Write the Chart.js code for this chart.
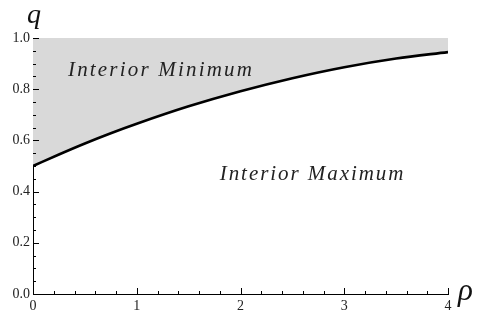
<!DOCTYPE html>
<html>
<head>
<meta charset="utf-8">
<script src="https://cdn.jsdelivr.net/npm/chart.js@4.4.1/dist/chart.umd.min.js"></script>
<style>
  html, body { margin: 0; padding: 0; background: #fff; }
  #wrap { width: 477px; height: 311px; }
</style>
</head>
<body>
<div id="wrap"><canvas id="c" width="477" height="311"></canvas></div>
<script>
// boundary curve q(rho)
const rhoVals = [0, 0.25, 0.5, 0.75, 1, 1.5, 2, 2.5, 3, 3.5, 4];
const qVals   = [0.5, 0.545, 0.588, 0.628, 0.665, 0.733, 0.792, 0.843, 0.886, 0.92, 0.945];

const xTicks = [0, 1, 2, 3, 4];
const yTicks = [0.0, 0.2, 0.4, 0.6, 0.8, 1.0];

// region labels: [text, left rho, right rho, baseline q]
const regionLabels = [
  ['Interior Minimum', 0.337, 2.11, 0.852],
  ['Interior Maximum', 1.80, 3.57, 0.445]
];

const serif = '"Liberation Serif", "DejaVu Serif", serif';
const isMajor = (v, arr)=> arr.some(t=> Math.abs(t - v) < 1e-6);

const decor = {
  id: 'decor',
  afterDatasetsDraw(chart){
    const ctx = chart.ctx, xs = chart.scales.x, ys = chart.scales.y;
    const ca = chart.chartArea;
    ctx.save();
    // inward ticks
    ctx.strokeStyle = '#000';
    ctx.lineWidth = 1;
    xs.ticks.forEach(t=>{
      const px = Math.round(xs.getPixelForValue(t.value)) + 0.5;
      const len = isMajor(t.value, xTicks) ? 6 : 3;
      ctx.beginPath(); ctx.moveTo(px, ca.bottom); ctx.lineTo(px, ca.bottom - len); ctx.stroke();
    });
    ys.ticks.forEach(t=>{
      const py = Math.round(ys.getPixelForValue(t.value)) + 0.5;
      const len = isMajor(t.value, yTicks) ? 6 : 3;
      ctx.beginPath(); ctx.moveTo(ca.left, py); ctx.lineTo(ca.left + len, py); ctx.stroke();
    });

    // region labels
    ctx.fillStyle = '#222';
    ctx.textBaseline = 'alphabetic';
    ctx.textAlign = 'left';
    regionLabels.forEach(([txt, r0, r1, q])=>{
      ctx.font = 'italic 21px ' + serif;
      ctx.letterSpacing = '0px';
      const target = xs.getPixelForValue(r1) - xs.getPixelForValue(r0);
      const w = ctx.measureText(txt).width;
      ctx.letterSpacing = ((target - w) / (txt.length - 1)).toFixed(2) + 'px';
      ctx.fillText(txt, xs.getPixelForValue(r0), ys.getPixelForValue(q));
    });
    ctx.letterSpacing = '0px';

    // axis titles
    ctx.fillStyle = '#111';
    ctx.font = 'italic 28px ' + serif;
    ctx.textAlign = 'center';
    ctx.fillText('q', ca.left + 1, ca.top - 15);
    ctx.font = 'italic 31px ' + serif;
    ctx.textAlign = 'left';
    ctx.fillText('\u03C1', ca.right + 10, ca.bottom + 6);
    ctx.restore();
  }
};

new Chart(document.getElementById('c'), {
  type: 'line',
  data: {
    datasets: [{
      data: rhoVals.map((r, i)=> ({ x: r, y: qVals[i] })),
      borderColor: '#000',
      borderWidth: 2.6,
      backgroundColor: '#d9d9d9',
      fill: 'end',
      pointRadius: 0,
      cubicInterpolationMode: 'monotone'
    }]
  },
  options: {
    responsive: false,
    animation: false,
    layout: { padding: { top: 38, right: 29, left: 0, bottom: 0 } },
    plugins: { legend: { display: false }, tooltip: { enabled: false } },
    scales: {
      x: {
        type: 'linear', min: 0, max: 4,
        afterFit: s=> { s.height = 17; },
        grid: { drawOnChartArea: false, drawTicks: false },
        border: { display: true, color: '#000', width: 1 },
        ticks: {
          stepSize: 0.2, autoSkip: false, maxRotation: 0, padding: 4,
          color: '#222', font: { family: serif, size: 14 },
          callback: v=> isMajor(v, xTicks) ? String(Math.round(v)) : ''
        }
      },
      y: {
        min: 0, max: 1,
        afterFit: s=> { s.width = 33; },
        grid: { drawOnChartArea: false, drawTicks: false },
        border: { display: true, color: '#000', width: 1 },
        ticks: {
          stepSize: 0.05, autoSkip: false, padding: 3,
          color: '#222', font: { family: serif, size: 14 },
          callback: v=> isMajor(v, yTicks) ? v.toFixed(1) : ''
        }
      }
    }
  },
  plugins: [decor]
});
</script>
</body>
</html>
